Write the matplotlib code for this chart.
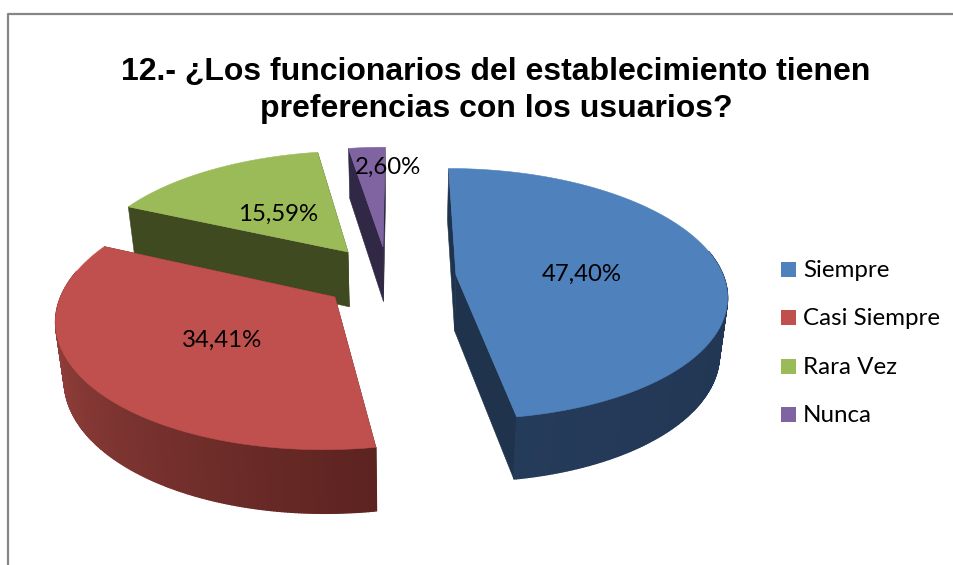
import numpy as np
import matplotlib
matplotlib.use('Agg')
import matplotlib.pyplot as plt
from matplotlib.colors import to_rgb
from matplotlib.patches import Polygon, Rectangle

title = '12.- ¿Los funcionarios del establecimiento tienen\npreferencias con los usuarios?'
categories = ['Siempre', 'Casi Siempre', 'Rara Vez', 'Nunca']
values = [47.40, 34.41, 15.59, 2.60]
colors = ['#4f81bd', '#c0504d', '#9bbb59', '#8064a2']
face_dark = ['#1f334d', '#5c2320', '#3f4a21', '#302845']
rim_start = ['#1c2f47', '#5c2320', '#3f4a21', '#302845']
rim_end = ['#253b5a', '#aa4c48', '#3f4a21', '#302845']

# where each slice was pulled out to, in the flat pie plane
apex_x = [57, -64.5, -54.5, -17.9]
apex_y = [-15.3, 6.9, -39.8, -45.4]
label_pos = [(582, 274), (222, 340), (278, 214), (388, 167)]

# fake 3d camera, fitted by eye to the picture
xc, y0 = 400, 290
persp = 830
rx, ry = 272, 127


def project(x, y):
    ys = y / (1 - y / persp)
    s = 1 + ys / persp
    return xc + x * s, y0 + ys


def drop(px, py):
    # bottom of the pie below a top point
    depth = 56.5 + 0.045 * (py - y0)
    return px + (xc - px) * 0.025, py + depth


def rim(i, theta):
    t = np.radians(theta)
    return project(apex_x[i] + rx * np.sin(t), apex_y[i] - ry * np.cos(t))


def side(ax, p, q, c, lw=0.4):
    bx1, by1 = drop(*p)
    bx2, by2 = drop(*q)
    ax.add_patch(Polygon([p, q, (bx2, by2), (bx1, by1)], closed=True, fc=c, ec=c, lw=lw))


fig = plt.figure(figsize=(9.54, 5.65), dpi=100)
ax = fig.add_axes([0, 0, 1, 1])
ax.set_xlim(0, 954)
ax.set_ylim(565, 0)
ax.axis('off')

# chart border, only top and left are inside the crop
ax.plot([8, 8, 954], [565, 13.5, 13.5], color='#868686', lw=1.6)

edges = np.cumsum([0] + values) * 3.6

# back slices first so the red one covers the green side
for i in [3, 2, 0, 1]:
    a, b = edges[i], edges[i + 1]
    thetas = np.linspace(a, b, max(int(b - a) * 2, 4))
    apex = project(apex_x[i], apex_y[i])
    pts = [rim(i, th) for th in thetas]

    side(ax, apex, pts[0], face_dark[i])
    side(ax, apex, pts[-1], face_dark[i])

    c1 = np.array(to_rgb(rim_start[i]))
    c2 = np.array(to_rgb(rim_end[i]))
    order = sorted(range(len(pts) - 1), key=lambda k: pts[k][1])
    for k in order:
        # the far part of the rim is hidden by the top anyway
        if np.cos(np.radians(thetas[k])) > 0.2:
            continue
        f = (thetas[k] - a) / (b - a)
        side(ax, pts[k], pts[k + 1], tuple(c1 + (c2 - c1) * f), lw=1.0)

    ax.add_patch(Polygon([apex] + pts, closed=True, fc=colors[i], ec=colors[i], lw=0.4))

for v, (x, y) in zip(values, label_pos):
    ax.text(x, y, f'{v:.2f}'.replace('.', ',') + '%', ha='center', va='center',
            fontsize=17.3, family='Lato', color='black')

ax.text(496, 90.5, title, ha='center', va='center', fontsize=23.05, fontweight='bold',
        family='Liberation Sans', color='black', linespacing=1.33)

for i, name in enumerate(categories):
    y = 269.5 + i * 48.3
    ax.add_patch(Rectangle((781, y - 7.5), 15, 15, fc=colors[i], ec='none'))
    ax.text(803, y + 1, name, ha='left', va='center', fontsize=17.4, family='Lato', color='black')

fig.savefig('out.png', dpi=100)
